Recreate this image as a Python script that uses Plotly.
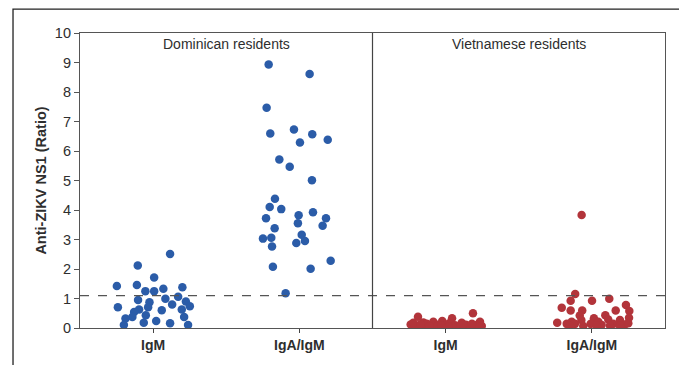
import plotly.graph_objects as go

# ---- data ----
categories = ["IgM", "IgA/IgM", "IgM", "IgA/IgM"]
panel_labels = ["Dominican residents", "Vietnamese residents"]
y_ticks = list(range(0, 11))
cutoff = 1.1

dom_igm_vals = [2.51, 2.12, 1.71, 1.42, 1.46, 1.38, 1.33, 1.25, 1.25, 1.06, 0.99, 0.95, 0.87, 0.90,
                0.80, 0.74, 0.70, 0.70, 0.63, 0.60, 0.63, 0.54, 0.43, 0.37, 0.37, 0.32, 0.24, 0.18,
                0.16, 0.10, 0.10]
dom_igm_jit = [0.116, -0.105, 0.007, -0.248, -0.111, 0.200, 0.070, -0.053, 0.007, 0.171, 0.084, -0.103,
               -0.025, 0.224, 0.130, 0.251, -0.241, -0.034, -0.096, 0.059, 0.196, -0.130, -0.050, -0.142,
               0.212, -0.189, 0.021, -0.064, 0.116, -0.200, 0.239]

dom_iga_vals = [8.93, 8.61, 7.47, 6.59, 6.73, 6.57, 6.29, 6.38, 5.71, 5.47, 5.01, 4.38, 4.10, 4.03,
                3.82, 3.92, 3.72, 3.72, 3.55, 3.47, 3.38, 3.16, 3.03, 3.06, 2.95, 2.88, 2.76, 2.28,
                2.08, 2.01, 1.18]
dom_iga_jit = [-0.210, 0.070, -0.224, -0.199, -0.037, 0.088, 0.004, 0.194, -0.137, -0.066, 0.086, -0.167,
               -0.203, -0.124, -0.005, 0.093, -0.228, 0.182, -0.010, 0.159, -0.169, 0.016, -0.249, -0.192,
               0.038, -0.021, -0.187, 0.214, -0.181, 0.077, -0.094]

viet_igm_vals = [0.50, 0.38, 0.33, 0.24, 0.21, 0.19, 0.21, 0.18, 0.12, 0.10, 0.07, 0.14, 0.09, 0.11,
                 0.07, 0.16, 0.09, 0.05, 0.11, 0.07, 0.10, 0.07, 0.05, 0.04, 0.03, 0.03, 0.18,
                 0.13, 0.08, 0.12, 0.05, 0.06, 0.14]
viet_igm_jit = [0.187, -0.189, 0.044, -0.023, -0.084, -0.152, 0.235, 0.110, -0.239, -0.209, -0.163, -0.129,
                -0.095, -0.050, -0.004, 0.025, 0.064, 0.087, 0.139, 0.167, 0.208, 0.247, -0.187, -0.061,
                0.049, 0.224, -0.221, -0.170, -0.030, 0.120, 0.020, -0.110, 0.180]

viet_iga_vals = [3.83, 1.15, 0.92, 0.92, 0.99, 0.69, 0.59, 0.59, 0.78, 0.59, 0.58, 0.42, 0.43, 0.35,
                 0.18, 0.21, 0.27, 0.33, 0.21, 0.29, 0.27, 0.14, 0.14, 0.14, 0.10, 0.14, 0.12, 0.16,
                 0.07, 0.07, 0.07, 0.08, 0.07]
viet_iga_jit = [-0.070, -0.114, -0.145, 0.001, 0.119, -0.206, -0.145, -0.066, 0.233, 0.163, 0.256, -0.083,
                0.092, 0.254, -0.237, -0.138, -0.072, 0.014, 0.044, 0.112, 0.192, -0.172, -0.116, -0.008,
                0.067, 0.146, 0.226, 0.249, -0.150, -0.059, 0.033, 0.124, 0.192]

BLUE = "#2b5ca8"
RED = "#b2343a"
FONT = "Liberation Sans, Arial, sans-serif"
TXT = "#2e2e2e"

groups = [
    (0, dom_igm_vals, dom_igm_jit, BLUE),
    (1, dom_iga_vals, dom_iga_jit, BLUE),
    (2, viet_igm_vals, viet_igm_jit, RED),
    (3, viet_iga_vals, viet_iga_jit, RED),
]

fig = go.Figure()
for idx, vals, jit, col in groups:
    center = idx + 0.5
    fig.add_trace(go.Scatter(
        x=[center + j for j in jit], y=vals, mode="markers",
        marker=dict(size=8.5, color=col, line=dict(width=0)),
        showlegend=False, hoverinfo="y"))

# cutoff dashed line
fig.add_shape(type="line", xref="x", yref="y", x0=0, x1=4, y0=cutoff, y1=cutoff,
              line=dict(color="#555555", width=1.3, dash="dash"))
# panel divider
fig.add_shape(type="line", xref="x", yref="y", x0=2, x1=2, y0=0, y1=10,
              line=dict(color="#444444", width=1.2))
# outer frame
fig.add_shape(type="rect", xref="paper", yref="paper", x0=-0.1145, x1=1.0325, y0=-0.2, y1=1.081,
              line=dict(color="#222222", width=1.3), fillcolor="rgba(0,0,0,0)", layer="below")

for i, lab in enumerate(panel_labels):
    fig.add_annotation(x=2 * i + 1, y=1.0, xref="x", yref="paper", yanchor="top", yshift=-1,
                       text=lab, showarrow=False,
                       font=dict(family=FONT, size=14, color=TXT))

# page body has an 8px margin, so the figure is sized to sit inside the window
fig.update_layout(
    width=679, height=357,
    margin=dict(l=72, r=22, t=25, b=37),
    plot_bgcolor="white", paper_bgcolor="white",
    font=dict(family=FONT, size=14, color=TXT),
)
fig.update_xaxes(
    range=[0, 4], tickmode="array", tickvals=[0.5, 1.5, 2.5, 3.5],
    ticktext=["<b>%s</b>" % c for c in categories],
    ticks="outside", ticklen=4, tickcolor="#444444",
    tickfont=dict(family=FONT, size=14, color=TXT),
    showline=True, linecolor="#555555", linewidth=1.2, mirror=True,
    showgrid=False, zeroline=False, fixedrange=True, automargin=False)
fig.update_yaxes(
    range=[0, 10], tickmode="array", tickvals=y_ticks,
    ticks="outside", ticklen=5, tickcolor="#555555",
    tickfont=dict(family=FONT, size=14.5, color=TXT),
    title=dict(text="<b>Anti-ZIKV NS1 (Ratio)</b>", font=dict(family=FONT, size=14.5, color=TXT),
               standoff=4),
    showline=True, linecolor="#555555", linewidth=1.2, mirror=True,
    showgrid=False, zeroline=False, fixedrange=True, automargin=False)

fig.write_html("out.html")
